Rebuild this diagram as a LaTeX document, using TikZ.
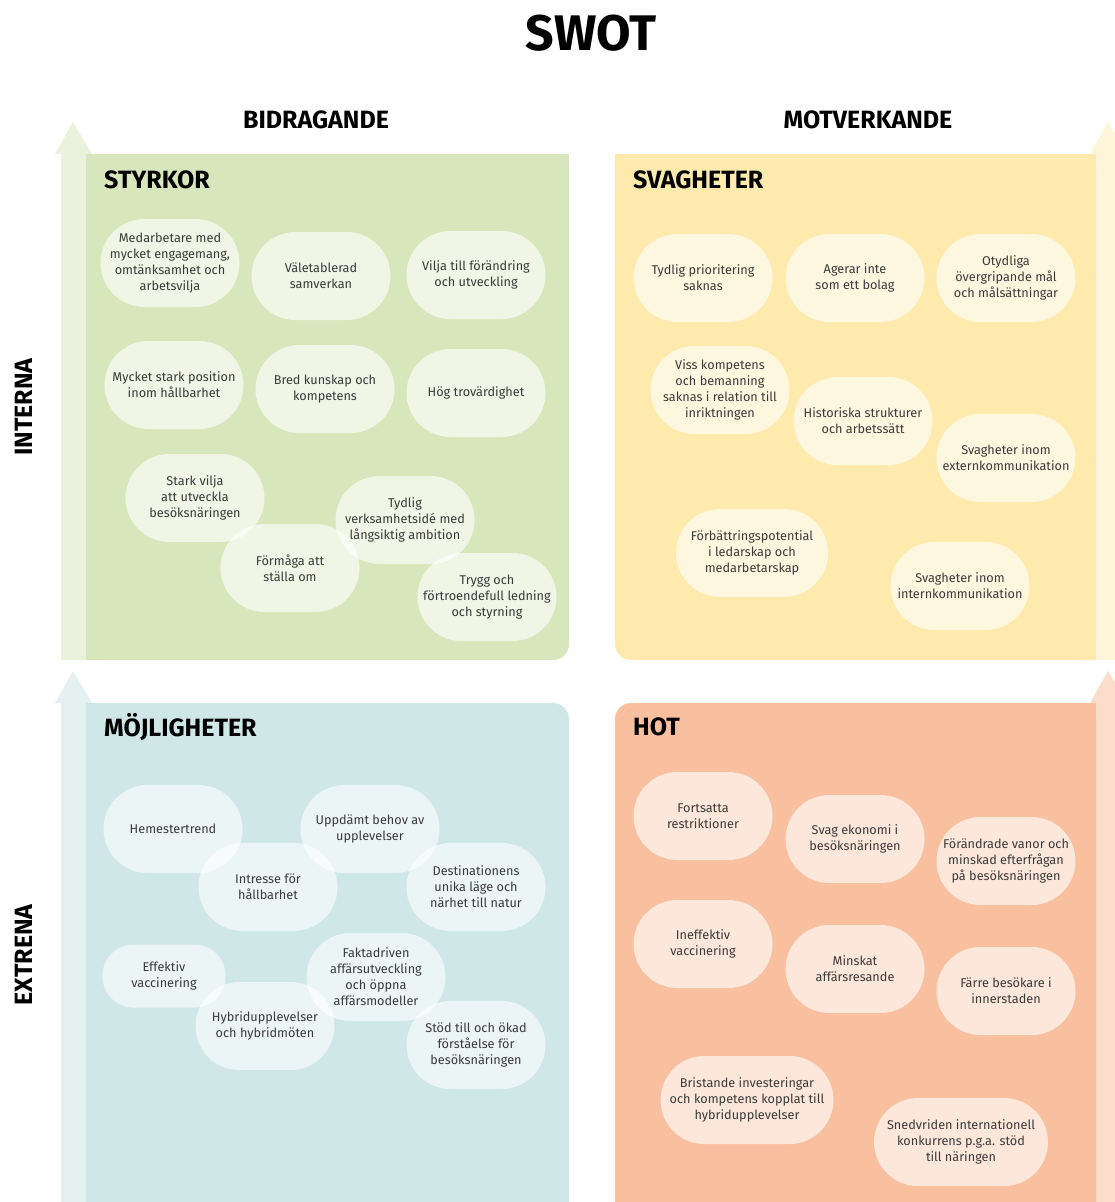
\documentclass[tikz,border=0pt]{standalone}
\usepackage{fontspec}
\setmainfont{Fira Sans}
\definecolor{gpanel}{HTML}{D8E6BC}
\definecolor{garrow}{HTML}{EAF2DD}
\definecolor{ypanel}{HTML}{FEEAAC}
\definecolor{yarrow}{HTML}{FEF5DA}
\definecolor{bpanel}{HTML}{CFE7E6}
\definecolor{barrow}{HTML}{E5F1F1}
\definecolor{opanel}{HTML}{F8C09F}
\definecolor{oarrow}{HTML}{FCDDCC}
\definecolor{txt}{HTML}{3A3A3A}
\tikzset{
  bub/.style={fill=white, fill opacity=0.62, text opacity=1, text=txt,
    rounded corners=44pt, minimum width=139pt, minimum height=88pt,
    align=center, inner sep=0pt, font=\fontsize{12.7}{16}\selectfont},
  head/.style={font=\fontsize{25}{25}\selectfont\bfseries, text=black, inner sep=0pt},
  ptitle/.style={font=\fontsize{25}{25}\selectfont\bfseries, text=black, inner sep=0pt, anchor=west},
}
\begin{document}
\begin{tikzpicture}[x=1pt,y=-1pt]
\useasboundingbox (0,0) rectangle (1115,1202);
\clip (0,0) rectangle (1115,1202);
% arrows
\fill[garrow] (61,660) -- (61,154) -- (55,154) -- (73,122) -- (92,154) -- (86,154) -- (86,660) -- cycle;
\fill[barrow] (61,1210) -- (61,703) -- (55,703) -- (73,671) -- (92,703) -- (86,703) -- (86,1210) -- cycle;
\fill[yarrow] (1096,660) -- (1096,154) -- (1090,154) -- (1108,122) -- (1127,154) -- (1121,154) -- (1121,660) -- cycle;
\fill[oarrow] (1096,1210) -- (1096,703) -- (1090,703) -- (1108,671) -- (1127,703) -- (1121,703) -- (1121,1210) -- cycle;
% panels
\fill[gpanel, rounded corners=16pt] (86,154) rectangle (569,660);
\fill[gpanel] (86,154) rectangle (400,660);
\fill[gpanel] (86,154) rectangle (569,500);
\fill[ypanel, rounded corners=16pt] (615,154) rectangle (1096,660);
\fill[ypanel] (800,154) rectangle (1096,660);
\fill[ypanel] (615,154) rectangle (1096,500);
\fill[bpanel, rounded corners=16pt] (86,703) rectangle (569,1230);
\fill[bpanel] (86,703) rectangle (400,1230);
\fill[bpanel] (86,900) rectangle (569,1230);
\fill[opanel, rounded corners=16pt] (615,703) rectangle (1096,1230);
\fill[opanel] (800,703) rectangle (1096,1230);
\fill[opanel] (615,900) rectangle (1096,1230);
% titles
\node[font=\fontsize{50}{50}\selectfont\bfseries, inner sep=0pt] (title) at (591,33) {SWOT};
\node[head] (bid) at (316,120) {BIDRAGANDE};
\node[head] (mot) at (868,120) {MOTVERKANDE};
\node[head, rotate=90] (int) at (24,407) {INTERNA};
\node[head, rotate=90] (ext) at (24,955) {EXTRENA};
\node[ptitle] (s) at (104,180) {STYRKOR};
\node[ptitle] (w) at (633,180) {SVAGHETER};
\node[ptitle] (o) at (104,727) {MÖJLIGHETER};
\node[ptitle] (t) at (633,727) {HOT};
% STYRKOR
\node[bub] (s1) at (170,263) {Medarbetare med\\mycket engagemang,\\omtänksamhet och\\arbetsvilja};
\node[bub] (s2) at (321,276) {Väletablerad\\samverkan};
\node[bub] (s3) at (476,275) {Vilja till förändring\\och utveckling};
\node[bub] (s4) at (174,385) {Mycket stark position\\inom hållbarhet};
\node[bub] (s5) at (325,389) {Bred kunskap och\\kompetens};
\node[bub] (s6) at (476,393) {Hög trovärdighet};
\node[bub] (s7) at (195,498) {Stark vilja\\att utveckla\\besöksnäringen};
\node[bub] (s8) at (290,568) {Förmåga att\\ställa om};
\node[bub] (s9) at (405,520) {Tydlig\\verksamhetsidé med\\långsiktig ambition};
\node[bub] (s10) at (487,597) {Trygg och\\förtroendefull ledning\\och styrning};
% SVAGHETER
\node[bub] (w1) at (703,278) {Tydlig prioritering\\saknas};
\node[bub] (w2) at (855,278) {Agerar inte\\som ett bolag};
\node[bub] (w3) at (1006,278) {Otydliga\\övergripande mål\\och målsättningar};
\node[bub] (w4) at (720,390) {Viss kompetens\\och bemanning\\saknas i relation till\\inriktningen};
\node[bub] (w5) at (863,421) {Historiska strukturer\\och arbetssätt};
\node[bub] (w6) at (1006,458) {Svagheter inom\\externkommunikation};
\node[bub, minimum width=152pt] (w7) at (752,553) {Förbättringspotential\\i ledarskap och\\medarbetarskap};
\node[bub] (w8) at (960,586) {Svagheter inom\\internkommunikation};
% MOJLIGHETER
\node[bub] (o1) at (173,829) {Hemestertrend};
\node[bub] (o2) at (268,887) {Intresse för\\hållbarhet};
\node[bub] (o3) at (370,829) {Uppdämt behov av\\upplevelser};
\node[bub] (o4) at (476,887) {Destinationens\\unika läge och\\närhet till natur};
\node[bub, minimum width=123pt, minimum height=63pt, rounded corners=31pt] (o5) at (164,976) {Effektiv\\vaccinering};
\node[bub] (o6) at (265,1026) {Hybridupplevelser\\och hybridmöten};
\node[bub] (o7) at (376,977) {Faktadriven\\affärsutveckling\\och öppna\\affärsmodeller};
\node[bub] (o8) at (476,1045) {Stöd till och ökad\\förståelse för\\besöksnäringen};
% HOT
\node[bub] (t1) at (703,816) {Fortsatta\\restriktioner};
\node[bub] (t2) at (855,839) {Svag ekonomi i\\besöksnäringen};
\node[bub] (t3) at (1006,861) {Förändrade vanor och\\minskad efterfrågan\\på besöksnäringen};
\node[bub] (t4) at (703,944) {Ineffektiv\\vaccinering};
\node[bub] (t5) at (855,969) {Minskat\\affärsresande};
\node[bub] (t6) at (1006,991) {Färre besökare i\\innerstaden};
\node[bub, minimum width=173pt] (t7) at (747,1100) {Bristande investeringar\\och kompetens kopplat till\\hybridupplevelser};
\node[bub, minimum width=174pt] (t8) at (961,1142) {Snedvriden internationell\\konkurrens p.g.a. stöd\\till näringen};
\end{tikzpicture}
\end{document}
